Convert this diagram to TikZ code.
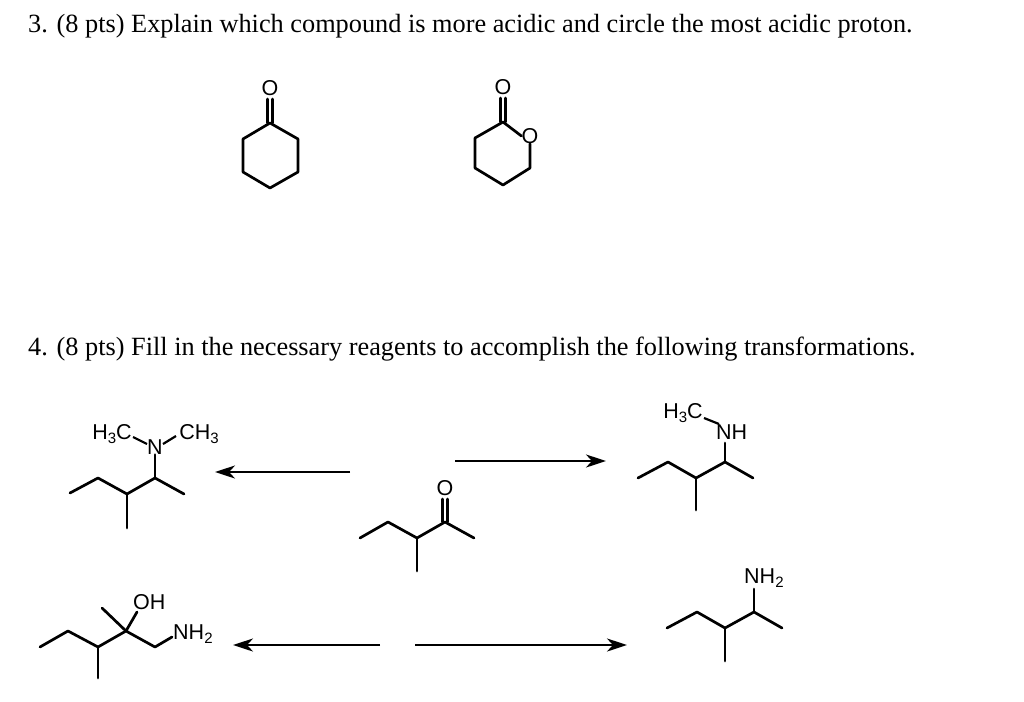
\documentclass[tikz,border=0pt]{standalone}
\usepackage{fontspec}
\usetikzlibrary{arrows.meta}
\setmainfont{Liberation Serif}
\newfontfamily\chemf{Liberation Sans}
\newcommand{\sbs}[1]{\raisebox{-0.3ex}{\fontsize{15}{15}\selectfont #1}}
\begin{document}
\begin{tikzpicture}[x=1pt,y=-1pt,
  bond/.style={line width=2.7pt,line join=round,line cap=round},
  atom/.style={font=\chemf\fontsize{21.5}{21.5}\selectfont,inner sep=0pt},
  arr/.style={line width=2.4pt,-{Stealth[length=20pt,width=13pt,inset=6pt]}},
  title/.style={font=\fontsize{26.3}{28}\selectfont,anchor=base west,inner sep=0pt}]
\useasboundingbox (0,0) rectangle (1024,701);
\node[title] (t3) at (28,33) {3. (8 pts) Explain which compound is more acidic and circle the most acidic proton.};
\node[title] (t4) at (28,355) {4. (8 pts) Fill in the necessary reagents to accomplish the following transformations.};
% cyclohexanone
\node[atom] (o1) at (270,88) {O};
\draw[bond] (270,123)--(298,139)--(298,172)--(270,188)--(243,172)--(243,139)--cycle;
\draw[bond] (267.5,123)--(267.5,99) (272.5,123)--(272.5,99);
% lactone
\node[atom] (o2) at (503,87) {O};
\node[atom] (o3) at (530,136) {O};
\draw[bond] (o3.south)--(530,168)--(503,185)--(475,168)--(475,138)--(503,122)--(o3.west);
\draw[bond] (500.5,122)--(500.5,98) (505.5,122)--(505.5,98);
% top-left amine
\node[atom] (n1) at (155,447) {N};
\node[atom] (a1) at (112,434) {H\sbs{3}C};
\node[atom] (a2) at (199,434) {CH\sbs{3}};
\draw[bond] (70,493)--(98,478)--(127,494)--(155,478)--(184,494);
\draw[bond] (127,494)--(127,528);
\draw[bond] (155,478)--(n1.south);
\draw[line width=2.2pt] (133,437)--(147,444) (163,444)--(176,436);
% ketone
\node[atom] (o4) at (445,488) {O};
\draw[bond] (360,538)--(388,522)--(417,538)--(445,522)--(474,538);
\draw[bond] (417,538)--(417,571);
\draw[bond] (442.5,522)--(442.5,499) (447.5,522)--(447.5,499);
% top-right
\node[atom,anchor=west] (n2) at (716,432) {NH};
\node[atom] (a3) at (683,413) {H\sbs{3}C};
\draw[bond] (638,478)--(668,462)--(696,478)--(725,462)--(753,478);
\draw[bond] (696,478)--(696,510);
\draw[bond] (725,462)--(725,443);
\draw[line width=2.2pt] (704,418)--(719,424);
% bottom-left
\node[atom,anchor=west] (oh) at (133,602) {OH};
\node[atom,anchor=west] (nh) at (173,634) {NH\sbs{2}};
\draw[bond] (40,647)--(68,631)--(98,647)--(126,631)--(155,647)--(172,637);
\draw[bond] (98,647)--(98,678);
\draw[bond] (126,631)--(102,608);
\draw[bond] (126,631)--(137,612);
% bottom-right
\node[atom,anchor=west] (n3) at (744,578) {NH\sbs{2}};
\draw[bond] (667,628)--(697,612)--(725,628)--(754,612)--(782,628);
\draw[bond] (725,628)--(725,661);
\draw[bond] (754,612)--(754,589);
% arrows
\coordinate (p1) at (350,472); \coordinate (q1) at (215,472);
\coordinate (p2) at (455,461); \coordinate (q2) at (606,461);
\coordinate (p3) at (380,645); \coordinate (q3) at (233,645);
\coordinate (p4) at (415,645); \coordinate (q4) at (627,645);
\draw[arr] (p1)--(q1);
\draw[arr] (p2)--(q2);
\draw[arr] (p3)--(q3);
\draw[arr] (p4)--(q4);
\end{tikzpicture}
\end{document}
